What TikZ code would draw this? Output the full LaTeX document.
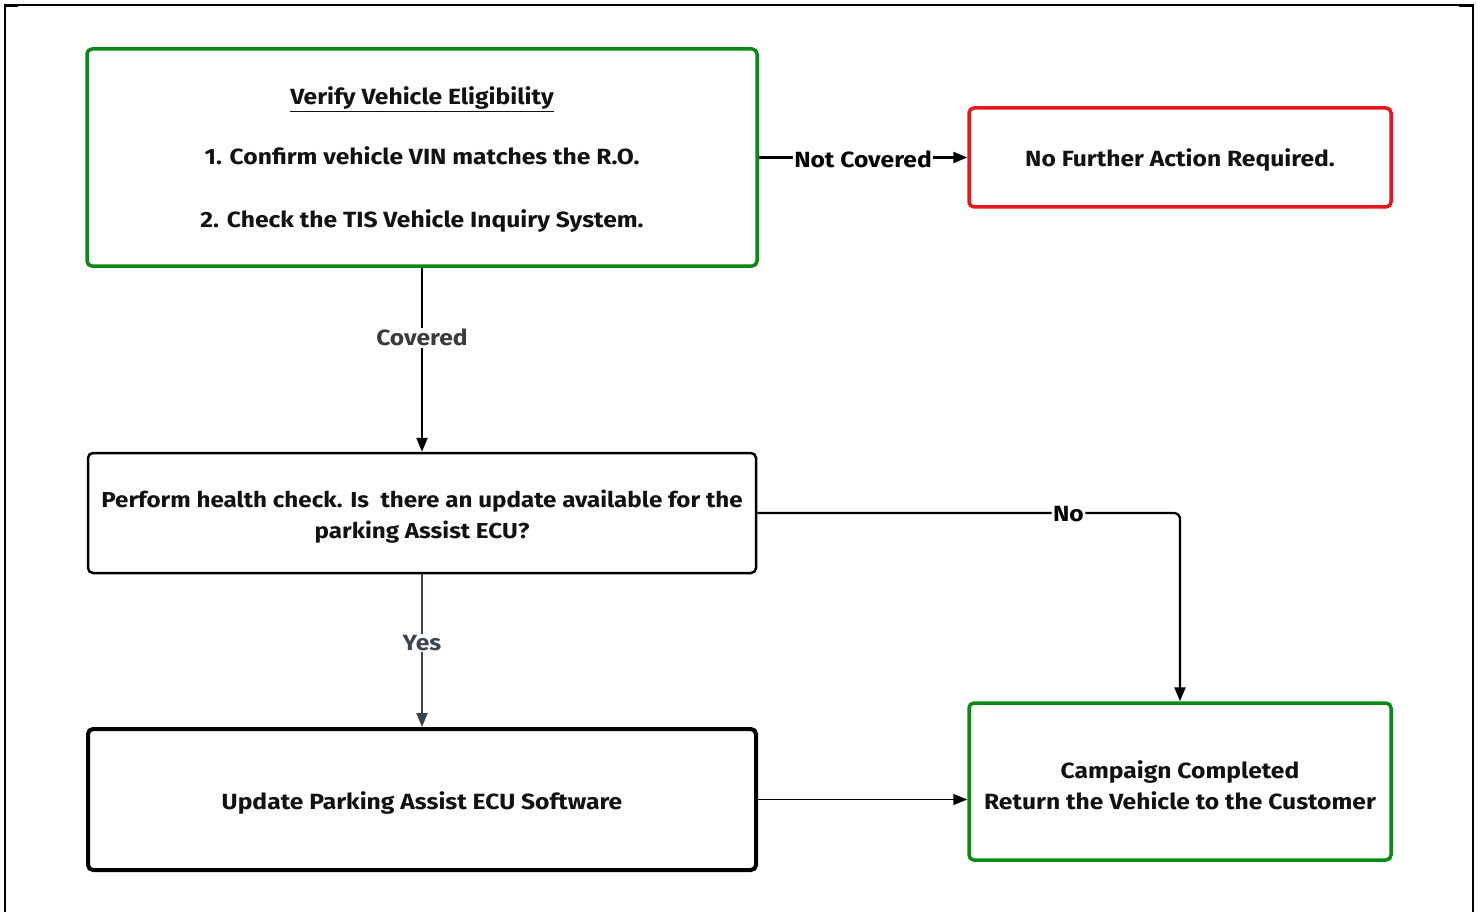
\documentclass[tikz,border=0pt]{standalone}
\usepackage{fontspec}
\setmainfont{Fira Sans}[FakeStretch=1.12]
\usetikzlibrary{arrows.meta,positioning}
\definecolor{boxgreen}{HTML}{0A8A14}
\definecolor{boxred}{HTML}{E8161C}
\definecolor{labgray}{HTML}{3A3A3A}
\definecolor{yesgray}{HTML}{3C4350}
\tikzset{
  box/.style={draw, rectangle, rounded corners=5pt, fill=white, inner sep=0pt},
  greenbox/.style={box, draw=boxgreen, line width=3.5pt},
  redbox/.style={box, draw=boxred, line width=3.5pt},
  blackbox/.style={box, draw=black, line width=2.5pt},
  thickbox/.style={box, draw=black, line width=4pt},
  txt/.style={font=\fontsize{22}{31}\selectfont\bfseries, align=center, text=black!93},
  conn/.style={line width=2.3pt, -{Triangle[length=14pt,width=11pt]}},
  lab/.style={fill=white, inner sep=1.5pt, font=\fontsize{22}{24}\selectfont\bfseries},
  frameline/.style={line width=1.6pt, black}
}
\begin{document}
\begin{tikzpicture}[x=1pt,y=-1pt]
\useasboundingbox (0,0) rectangle (1478,912);
\fill[white] (0,0) rectangle (1478,912);
% frame
\draw[frameline] (5,912) -- (5,5) -- (1473,5) -- (1473,912);
\draw[line width=2.6pt] (5,5.5) -- (18,5.5);
\draw[line width=2.6pt] (1459,5.5) -- (1473,5.5);
% boxes
\node[greenbox, minimum width=670pt, minimum height=217pt] (b1) at (422,157.5) {};
\node[redbox, minimum width=422pt, minimum height=99pt] (b2) at (1180,157.5) {};
\node[blackbox, minimum width=668pt, minimum height=120pt] (b3) at (422,513) {};
\node[thickbox, minimum width=668pt, minimum height=141pt] (b4) at (422,799.5) {};
\node[greenbox, minimum width=422pt, minimum height=157pt] (b5) at (1180,781.5) {};
% texts
\node[txt] (t1) at (422,99.5) {\underline{Verify Vehicle Eligibility}};
\node[txt] (t2) at (422,156) {1. Confirm vehicle VIN matches the R.O.};
\node[txt] (t3) at (422,221) {2. Check the TIS Vehicle Inquiry System.};
\node[txt] (t4) at (1180,160) {No Further Action Required.};
\node[txt, font=\fontsize{21.6}{31}\selectfont\bfseries] (t5) at (422,517) {Perform health check. Is\ \ there an update available for the\\parking Assist ECU?};
\node[txt] (t6) at (422,803) {Update Parking Assist ECU Software};
\node[txt] (t7) at (1180,785) {Campaign Completed\\Return the Vehicle to the Customer};
% connectors
\draw[conn] (b1.east) -- node[lab, text=black, yshift=-2pt] {Not Covered} (b2.west);
\draw[conn] (b1.south) -- node[lab, text=labgray, pos=0.38] {Covered} (b3.north);
\draw[conn, draw=yesgray, fill=yesgray] (b3.south) -- node[lab, text=yesgray, pos=0.45] {Yes} (b4.north);
\draw[conn, rounded corners=6pt] (b3.east) -| node[lab, text=black, pos=0.368, yshift=-1.5pt] {No} (b5.north);
\draw[conn, line width=1.5pt] (b4.east) -- (b5.west |- b4.east);
\end{tikzpicture}
\end{document}
